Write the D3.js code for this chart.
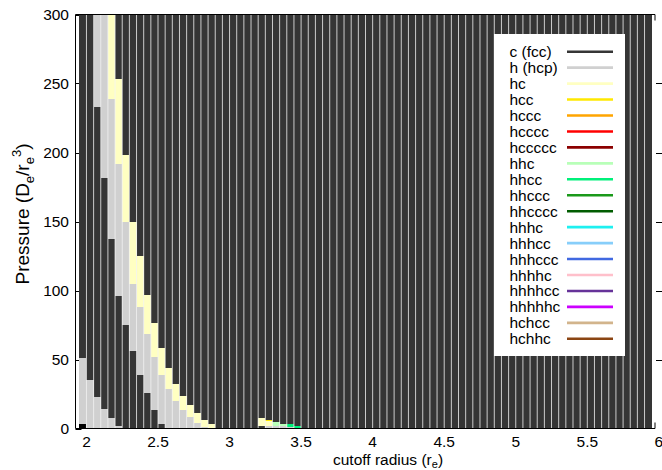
<!DOCTYPE html>
<html><head><meta charset="utf-8">
<script src="https://cdn.jsdelivr.net/npm/d3@7/dist/d3.min.js"></script>
<style>
body{margin:0;background:#fff}
text{font-family:"Liberation Sans",Arial,Helvetica,sans-serif;fill:#000}
</style>
</head><body>
<svg id="chart" width="662" height="470"></svg>
<script>
// ---- data ----
// lower edge of each cutoff-radius column (r_e); each column is 0.05 wide
const radii = [1.95,2.00,2.05,2.10,2.15,2.20,2.25,2.30,2.35,2.40,2.45,2.50,2.55,2.60,2.65,2.70,2.75,2.80,2.85,2.90,
  2.95,3.00,3.05,3.10,3.15,3.20,3.25,3.30,3.35,3.40,3.45,3.50,3.55,3.60,3.65,3.70,3.75,3.80,3.85,3.90,
  3.95,4.00,4.05,4.10,4.15,4.20,4.25,4.30,4.35,4.40,4.45,4.50,4.55,4.60,4.65,4.70,4.75,4.80,4.85,4.90,
  4.95,5.00,5.05,5.10,5.15,5.20,5.25,5.30,5.35,5.40,5.45,5.50,5.55,5.60,5.65,5.70,5.75,5.80,5.85,5.90];
const radiusStep = 0.05;
const pressureRange = [0, 300];
const xTicks = [2, 2.5, 3, 3.5, 4, 4.5, 5, 5.5, 6];
const yTicks = [0, 50, 100, 150, 200, 250, 300];

const phaseNames = ["c (fcc)","h (hcp)","hc","hcc","hccc","hcccc","hccccc","hhc","hhcc","hhccc","hhcccc",
  "hhhc","hhhcc","hhhccc","hhhhc","hhhhcc","hhhhhc","hchcc","hchhc"];
const phaseColors = ["#353535","#d0d0d0","#ffffc2","#ffe800","#ffa500","#ff0000","#8b0000","#b8ffb8","#00f07a",
  "#1a991a","#005c00","#1ef0f0","#87cefa","#4169e1","#ffc0cb","#663399","#cc00ff","#d2b48c","#8b4513"];

// fcc is stable over the whole pressure range of every column unless overlaid below
// [radius, pressure low, pressure high]
const hcpSegments = [
  [1.95,3.1,51.4],[2.00,0,35.5],[2.05,0,22.9],[2.05,232.8,300],[2.10,0,14.0],[2.10,181.6,300],
  [2.15,0,7.5],[2.15,137.2,238.6],[2.20,0,1.7],[2.20,96.1,192.0],[2.25,74.9,149.3],[2.30,56.2,104.6],
  [2.35,38.6,88.1],[2.40,25.6,68.8],[2.45,13.3,51.9],[2.50,3.6,38.6],[2.55,0,28.3],[2.60,0,19.8],
  [2.65,0,13.3],[2.70,0,8.0],[2.75,0,4.1],[2.80,0,1.2],
  [3.25,0,1.9],[3.30,0,1.9],[3.35,0,1.9],[3.40,0,1.2]];
const hcSegments = [
  [2.15,238.6,300],[2.20,192.0,253.1],[2.25,149.3,198.0],[2.30,104.6,149.3],[2.35,88.1,124.9],
  [2.40,68.8,97.1],[2.45,51.9,76.1],[2.50,38.6,58.0],[2.55,28.3,44.2],[2.60,19.8,32.6],[2.65,13.3,23.4],
  [2.70,8.0,16.7],[2.75,4.1,11.3],[2.80,1.2,6.5],[2.85,0,3.1],
  [3.20,1.9,7.7],[3.25,1.9,5.3]];
const hccSegments = [[3.25,5.3,6.2]];
const hhcSegments = [[3.30,1.9,4.8],[3.35,1.9,3.6]];
const hhccSegments = [[3.40,1.2,2.9],[3.45,0.7,1.9]];
const hhcccSegments = [[3.45,0,0.7]];
const unassignedSegments = [[1.95,0,3.1]];

// ---- drawing ----
const svg = d3.select("#chart");
const x = d3.scaleLinear().domain([radii[0], radii[radii.length-1] + radiusStep]).range([79.3, 651.7]);
const y = d3.scaleLinear().domain(pressureRange).range([428.5, 14.5]);
const axL = 75.5, axR = 655, axT = y(300), axB = y(0);
const FS = "15.5px";

// ticks (drawn beneath the bars)
const tickG = svg.append("g").attr("stroke", "#000").attr("stroke-width", 1);
yTicks.forEach(t => {
  tickG.append("line").attr("x1", axL).attr("x2", axL + 6).attr("y1", Math.round(y(t)) + 0.5).attr("y2", Math.round(y(t)) + 0.5);
});

// bars
const barG = svg.append("g");
function drawSegments(segs, color) {
  barG.selectAll(null).data(segs).enter().append("rect")
    .attr("x", d => x(d[0]))
    .attr("width", d => x(d[0] + radiusStep) - x(d[0]))
    .attr("y", d => y(d[2]))
    .attr("height", d => y(d[1]) - y(d[2]))
    .attr("fill", color)
    .attr("shape-rendering", "crispEdges");
}
drawSegments(radii.map(r => [r, pressureRange[0], pressureRange[1]]), phaseColors[0]);
drawSegments(hcpSegments, phaseColors[1]);
drawSegments(hcSegments, phaseColors[2]);
drawSegments(hccSegments, phaseColors[3]);
drawSegments(hhcSegments, phaseColors[7]);
drawSegments(hhccSegments, phaseColors[8]);
drawSegments(hhcccSegments, phaseColors[9]);
drawSegments(unassignedSegments, "#000");

// column separators
const edges = radii.concat([radii[radii.length-1] + radiusStep]);
barG.selectAll(null).data(edges.slice(1, -1)).enter().append("line")
  .attr("x1", d => x(d)).attr("x2", d => x(d))
  .attr("y1", axT).attr("y2", axB)
  .attr("stroke", "#f2f2f2").attr("stroke-width", 0.8);

// axes lines
const axG = svg.append("g").attr("stroke", "#000").attr("stroke-width", 1).attr("fill", "none");
axG.append("line").attr("x1", axL).attr("x2", axL).attr("y1", axT).attr("y2", axB);
axG.append("line").attr("x1", axL).attr("x2", axR).attr("y1", axB).attr("y2", axB);
axG.append("line").attr("x1", axL).attr("x2", axR).attr("y1", axT).attr("y2", axT);
axG.append("line").attr("x1", axR).attr("x2", axR).attr("y1", axT).attr("y2", axT + 6);
axG.append("line").attr("x1", axR).attr("x2", axR).attr("y1", axB).attr("y2", axB - 6);
yTicks.slice(1, -1).forEach(t => {
  axG.append("line").attr("x1", 656).attr("x2", 662).attr("y1", Math.round(y(t)) + 0.5).attr("y2", Math.round(y(t)) + 0.5);
});

// tick labels
svg.append("g").selectAll("text").data(yTicks).enter().append("text")
  .attr("x", 69).attr("y", d => y(d) + 5.5).attr("text-anchor", "end")
  .style("font-size", FS).text(d => d);
svg.append("g").selectAll("text").data(xTicks).enter().append("text")
  .attr("x", d => x(d)).attr("y", 447).attr("text-anchor", "middle")
  .style("font-size", FS).text(d => d);

// axis titles
const xt = svg.append("text").attr("x", 388).attr("y", 464.5).attr("text-anchor", "middle").style("font-size", FS);
xt.append("tspan").text("cutoff radius (r");
xt.append("tspan").attr("dy", 3).style("font-size", "11px").text("e");
xt.append("tspan").attr("dy", -3).text(")");

const yt = svg.append("text").attr("transform", "translate(29,214) rotate(-90)").attr("text-anchor", "middle").style("font-size", "19px");
yt.append("tspan").text("Pressure (D");
yt.append("tspan").attr("dy", 5).style("font-size", "13px").text("e");
yt.append("tspan").attr("dy", -5).text("/r");
yt.append("tspan").attr("dy", 5).style("font-size", "13px").text("e");
yt.append("tspan").attr("dy", -13).style("font-size", "13px").text("3");
yt.append("tspan").attr("dy", 8).text(")");

// legend
const lg = svg.append("g");
lg.append("rect").attr("x", 494).attr("y", 34).attr("width", 131).attr("height", 322).attr("fill", "#fff");
phaseNames.forEach((n, k) => {
  const ly = 51.7 + 15.95 * k;
  lg.append("text").attr("x", 509.5).attr("y", ly + 5.5).style("font-size", FS).text(n);
  lg.append("line").attr("x1", 567).attr("x2", 613).attr("y1", ly).attr("y2", ly)
    .attr("stroke", phaseColors[k]).attr("stroke-width", 2.6);
});
</script>
</body></html>
